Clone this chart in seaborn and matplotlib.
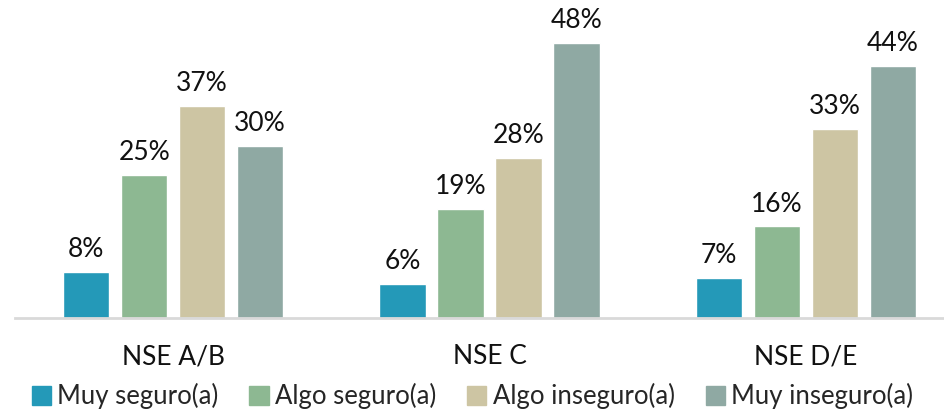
import numpy as np
import pandas as pd
import matplotlib.pyplot as plt
import seaborn as sns

groups = ['NSE A/B', 'NSE C', 'NSE D/E']
series = ['Muy seguro(a)', 'Algo seguro(a)', 'Algo inseguro(a)', 'Muy inseguro(a)']
muy_seguro = [8, 6, 7]
algo_seguro = [25, 19, 16]
algo_inseguro = [37, 28, 33]
muy_inseguro = [30, 48, 44]
colors = ['#2499b8', '#8db892', '#cdc5a3', '#8fa9a3']

df = pd.DataFrame({
    'grupo': np.repeat(groups, 4),
    'serie': series * 3,
    'valor': [v for trio in zip(muy_seguro, algo_seguro, algo_inseguro, muy_inseguro) for v in trio],
})

sns.set_style('white')
plt.rcParams['font.family'] = ['Lato', 'DejaVu Sans']

fig = plt.figure(figsize=(9.45, 4.13), dpi=100)
ax = fig.add_axes([15 / 945, 95 / 413, 930 / 945, 318 / 413])

sns.barplot(data=df, x='grupo', y='valor', hue='serie', order=groups, hue_order=series,
            palette=colors, width=0.734, gap=0.2, saturation=1, legend=False, ax=ax)

for cont in ax.containers:
    ax.bar_label(cont, labels=[f'{v:.0f}%' for v in cont.datavalues], padding=7, fontsize=19,
                 color='#111111')

ax.set_xlim(-0.5, 2.44)
ax.set_ylim(0, 55.5)
ax.set_xlabel('')
ax.set_ylabel('')
ax.set_yticks([])
ax.tick_params(axis='x', length=0, labelsize=19, pad=19, colors='#111111')
for side in ['top', 'left', 'right']:
    ax.spines[side].set_visible(False)
ax.spines['bottom'].set_color('#d9d9d9')
ax.spines['bottom'].set_linewidth(2)

handles = [plt.Rectangle((0, 0), 1, 1, color=c) for c in colors]
fig.legend(handles, series, loc='center', bbox_to_anchor=(0.5, 17 / 413), ncol=4, frameon=False,
           fontsize=18.5, handlelength=0.75, handleheight=0.75, handletextpad=0.25, columnspacing=1.2)

fig.savefig('out.png', dpi=100)
